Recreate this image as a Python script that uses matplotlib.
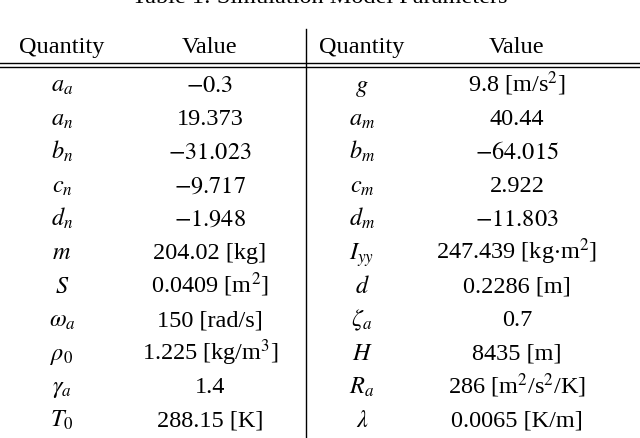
import matplotlib
matplotlib.use("Agg")
import matplotlib.pyplot as plt

plt.rcParams['font.family'] = ['Liberation Serif', 'DejaVu Serif']
plt.rcParams['mathtext.fontset'] = 'stix'

title = "Table 1: Simulation Model Parameters"
headers = ["Quantity", "Value", "Quantity", "Value"]
q_left = [r"$a_a$", r"$a_n$", r"$b_n$", r"$c_n$", r"$d_n$", r"$m$", r"$S$",
          r"$\omega_a$", r"$\rho_0$", r"$\gamma_a$", r"$T_0$"]
v_left = [r"$-0.3$", "19.373", r"$-31.023$", r"$-9.717$", r"$-1.948$",
          "204.02 [kg]", "0.0409 [m$^2$]", "150 [rad/s]", "1.225 [kg/m$^3$]",
          "1.4", "288.15 [K]"]
q_right = [r"$g$", r"$a_m$", r"$b_m$", r"$c_m$", r"$d_m$", r"$I_{yy}$", r"$d$",
           r"$\zeta_a$", r"$H$", r"$R_a$", r"$\lambda$"]
v_right = ["9.8 [m/s$^2$]", "40.44", r"$-64.015$", "2.922", r"$-11.803$",
           "247.439 [kg$\\cdot$m$^2$]", "0.2286 [m]", "0.7", "8435 [m]",
           "286 [m$^2$/s$^2$/K]", "0.0065 [K/m]"]

W, H = 640, 439
fig = plt.figure(figsize=(6.4, 4.39), dpi=100)
ax = fig.add_axes([0, 0, 1, 1])
ax.set_xlim(0, W)
ax.set_ylim(H, 0)
ax.axis('off')

fs = 17.5
ax.text(320, 3, title, ha='center', va='baseline', fontsize=fs)
cols = [62, 210, 362, 517]
for x, h in zip(cols, headers):
    ax.text(x, 53, h, ha='center', va='baseline', fontsize=fs)
ax.plot([0, W], [63.5, 63.5], color='black', lw=1.0)
ax.plot([0, W], [67.5, 67.5], color='black', lw=1.0)
ax.plot([306, 306], [30, H], color='black', lw=1.0)

y0, dy = 92, 33.5
for i in range(len(q_left)):
    y = y0 + i * dy
    for x, s in zip(cols, [q_left[i], v_left[i], q_right[i], v_right[i]]):
        ax.text(x, y, s, ha='center', va='baseline', fontsize=fs)

fig.savefig("out.png", dpi=100)
